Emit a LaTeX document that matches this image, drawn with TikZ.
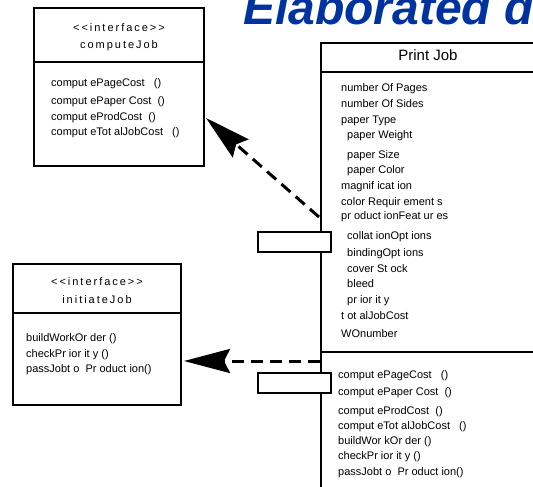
\documentclass[tikz,border=0pt]{standalone}
\usepackage{fontspec}
\setmainfont{Liberation Sans}
\newfontfamily\spacedfont[LetterSpace=18]{Liberation Sans}
\usetikzlibrary{arrows.meta}
\definecolor{titleblue}{RGB}{0,51,160}
\begin{document}
\begin{tikzpicture}[x=1pt,y=-1pt,
  box/.style={draw, line width=2.5pt, fill=white, inner sep=0pt},
  txt/.style={anchor=base west, inner sep=0pt, font=\fontsize{11}{13}\selectfont},
  ctxt/.style={anchor=base, inner sep=0pt, font=\fontsize{11}{13}\selectfont\spacedfont},
  dep/.style={line width=3pt, dash pattern=on 12pt off 7pt, -{Stealth[length=46pt,width=24pt,inset=6pt]}},
  tabbox/.style={draw, line width=2.2pt, fill=white, minimum width=73pt, minimum height=20pt, inner sep=0pt},
  divider/.style={line width=2.5pt}]
\path[use as bounding box, clip] (0,0) rectangle (533,487);
\fill[white] (0,0) rectangle (533,487);

% title
\node[anchor=base west, inner sep=0pt, text=titleblue,
      font=\fontsize{48}{48}\selectfont\bfseries\itshape] (title) at (243,25) {Elaborated d};

% computeJob interface
\node[box, minimum width=170pt, minimum height=158pt] (cj) at (119,87) {};
\draw[divider] (cj.west |- 0,62) -- (cj.east |- 0,62);
\node[ctxt] (cj1) at (119,32) {<<interface>>};
\node[ctxt] (cj2) at (119,49) {computeJob};
\node[txt] (cjm1) at (51,86) {comput ePageCost\ \ \ ()};
\node[txt] (cjm2) at (51,104) {comput ePaper Cost\ \ ()};
\node[txt] (cjm3) at (51,120) {comput eProdCost\ \ ()};
\node[txt] (cjm4) at (51,135) {comput eTot alJobCost\ \ \ ()};

% initiateJob interface
\node[box, minimum width=168pt, minimum height=141pt] (ij) at (97,334.5) {};
\draw[divider] (ij.west |- 0,313) -- (ij.east |- 0,313);
\node[ctxt] (ij1) at (97,285) {<<interface>>};
\node[ctxt] (ij2) at (97,303) {initiateJob};
\node[txt] (ijm1) at (26,341) {buildWorkOr der ()};
\node[txt] (ijm2) at (26,357) {checkPr ior it y ()};
\node[txt] (ijm3) at (26,372) {passJobt o\ \ Pr oduct ion()};

% PrintJob class
\node[box, minimum width=215pt, minimum height=487pt] (pj) at (428.5,286.5) {};
\draw[divider] (pj.west |- 0,72) -- (pj.east |- 0,72);
\draw[divider] (pj.west |- 0,352) -- (pj.east |- 0,352);
\node[anchor=base, inner sep=0pt, font=\fontsize{15}{17}\selectfont] (pjt) at (428,61) {Print Job};

\node[txt] (a1) at (341,92) {number Of Pages};
\node[txt] (a2) at (341,107) {number Of Sides};
\node[txt] (a3) at (341,123) {paper Type};
\node[txt] (a4) at (347,138) {paper Weight};
\node[txt] (a5) at (347,158) {paper Size};
\node[txt] (a6) at (347,173) {paper Color};
\node[txt] (a7) at (341,189) {magnif icat ion};
\node[txt] (a8) at (341,205) {color Requir ement s};
\node[txt] (a9) at (341,219) {pr oduct ionFeat ur es};
\node[txt] (a10) at (347,239) {collat ionOpt ions};
\node[txt] (a11) at (347,256) {bindingOpt ions};
\node[txt] (a12) at (347,272) {cover St ock};
\node[txt] (a13) at (347,287) {bleed};
\node[txt] (a14) at (347,303) {pr ior it y};
\node[txt] (a15) at (341,319) {t ot alJobCost};
\node[txt] (a16) at (341,337) {WOnumber};

\node[txt] (m1) at (338,378) {comput ePageCost\ \ \ ()};
\node[txt] (m2) at (338,395) {comput ePaper Cost\ \ ()};
\node[txt] (m3) at (338,414) {comput eProdCost\ \ ()};
\node[txt] (m4) at (338,429) {comput eTot alJobCost\ \ \ ()};
\node[txt] (m5) at (338,444) {buildWor kOr der ()};
\node[txt] (m6) at (338,459) {checkPr ior it y ()};
\node[txt] (m7) at (338,475) {passJobt o\ \ Pr oduct ion()};

% interface tabs
\node[tabbox] (tab1) at (294.5,242) {};
\node[tabbox] (tab2) at (294.5,383) {};

% dependency arrows
\coordinate (s1) at (319,217);
\coordinate (t1) at (206,118);
\coordinate (s2) at (320,361);
\coordinate (t2) at (184,361);
\draw[dep] (s1) -- (t1);
\draw[dep] (s2) -- (t2);
\end{tikzpicture}
\end{document}
